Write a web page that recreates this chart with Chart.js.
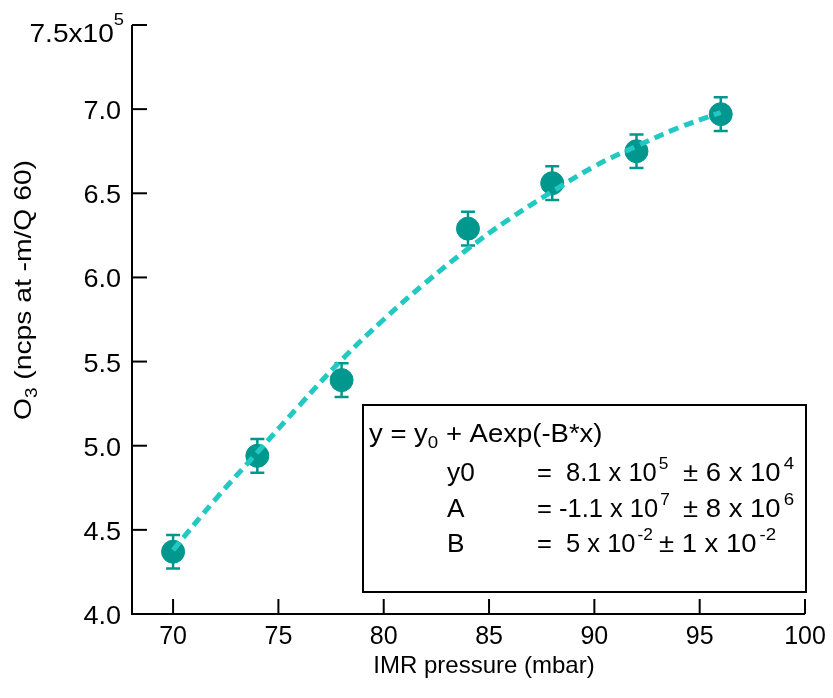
<!DOCTYPE html>
<html>
<head>
<meta charset="utf-8">
<script src="https://cdn.jsdelivr.net/npm/chart.js@4.4.0/dist/chart.umd.min.js"></script>
<style>
  html, body { margin: 0; padding: 0; background: #fff; }
  #wrap { width: 833px; height: 698px; position: relative; }
</style>
</head>
<body>
<div id="wrap"><canvas id="chart"></canvas></div>
<script>
// measured points
const pressure = [70, 74, 78, 84, 88, 92, 96];
const o3Signal = [4.37, 4.94, 5.39, 6.29, 6.56, 6.75, 6.97];
const o3Error = [0.1, 0.1, 0.1, 0.1, 0.1, 0.1, 0.1];

// fit curve
const fitX = [70, 72, 74, 76, 78, 80, 82, 84, 86, 88, 90, 92, 94, 96];
const fitY = [4.38, 4.68, 4.96, 5.24, 5.51, 5.75, 5.97, 6.17, 6.35, 6.51, 6.66, 6.78, 6.89, 6.98];

// axis ticks
const xTicks = [70, 75, 80, 85, 90, 95, 100];
const yTicks = [4.0, 4.5, 5.0, 5.5, 6.0, 6.5, 7.0, 7.5];

const FONT = '"Liberation Sans", Arial, sans-serif';
const markerColor = '#00978f';
const fitColor = '#22c9c3';

// text pieces drawn one after another: [text, fontSize, dy, gapBefore]
function drawRuns(ctx, x, y, parts, stretch) {
    stretch = stretch || 1;
    parts.forEach(function(p) {
        x += p[3] || 0;
        ctx.font = p[1] + 'px ' + FONT;
        ctx.save();
        ctx.translate(x, y + p[2]);
        ctx.scale(stretch, 1);
        ctx.fillText(p[0], 0, 0);
        ctx.restore();
        x += ctx.measureText(p[0]).width * stretch;
    });
    return x;
}

function runsWidth(ctx, parts, stretch) {
    let w = 0;
    parts.forEach(function(p) {
        ctx.font = p[1] + 'px ' + FONT;
        w += ctx.measureText(p[0]).width * (stretch || 1) + (p[3] || 0);
    });
    return w;
}

// draws axes, ticks, labels and fit-box text
const axesPlugin = {
    id: 'axesPlugin',
    afterDraw(chart) {
        const ctx = chart.ctx;
        const xs = chart.scales.x;
        const ys = chart.scales.y;
        const area = chart.chartArea;
        const yTop = ys.getPixelForValue(7.5);
        const xEnd = xs.getPixelForValue(100);

        ctx.save();
        ctx.strokeStyle = '#000';
        ctx.fillStyle = '#000';
        ctx.lineWidth = 2;
        ctx.beginPath();
        ctx.moveTo(area.left, yTop);
        ctx.lineTo(area.left, area.bottom);
        ctx.lineTo(xEnd, area.bottom);
        ctx.stroke();

        // y ticks (inward)
        ctx.textAlign = 'left';
        ctx.textBaseline = 'alphabetic';
        yTicks.forEach(function(v) {
            const py = ys.getPixelForValue(v);
            ctx.beginPath();
            ctx.moveTo(area.left, py);
            ctx.lineTo(area.left + 15, py);
            ctx.stroke();
            let parts;
            if (v === 7.5) {
                parts = [['7.5x10', 26, 0], ['5', 17, -17]];
                const w = runsWidth(ctx, parts, 1.08);
                drawRuns(ctx, area.left - 8 - w, py + 17, parts, 1.08);
            } else {
                parts = [[v.toFixed(1), 26, 0]];
                const w = runsWidth(ctx, parts, 1.04);
                drawRuns(ctx, area.left - 11 - w, py + 10, parts, 1.04);
            }
        });

        // x ticks (inward)
        ctx.textAlign = 'center';
        ctx.textBaseline = 'alphabetic';
        ctx.font = '25px ' + FONT;
        xTicks.forEach(function(v) {
            const px = xs.getPixelForValue(v);
            ctx.beginPath();
            ctx.moveTo(px, area.bottom);
            ctx.lineTo(px, area.bottom - 15);
            ctx.stroke();
            ctx.fillText(String(v), px, area.bottom + 30);
        });

        // axis titles
        ctx.font = '24px ' + FONT;
        ctx.fillText('IMR pressure (mbar)', 484, 673);

        ctx.save();
        ctx.translate(31, 290);
        ctx.rotate(-Math.PI / 2);
        ctx.textAlign = 'left';
        const title = [['O', 24, 0], ['3', 16, 6], [' (ncps at -m/Q 60)', 24, 0]];
        const stretch = 260 / runsWidth(ctx, title, 1);
        drawRuns(ctx, -130, 0, title, stretch);
        ctx.restore();

        // fit box
        ctx.lineWidth = 2;
        ctx.strokeRect(363, 405, 443, 187);
        ctx.textAlign = 'left';

        drawRuns(ctx, 369, 442, [['y = y', 25, 0], ['0', 17, 6], [' + Aexp(-B*x)', 25, 0]], 1.1);

        const rows = [
            ['y0', [['=  8.1 x 10', 25, 0], ['5', 17, -12, 2]], [['\u00b1 6 x 10', 25, 0], ['4', 17, -12, 3]]],
            ['A', [['= -1.1 x 10', 25, 0], ['7', 17, -12, 2]], [['\u00b1 8 x 10', 25, 0], ['6', 17, -12, 3]]],
            ['B', [['=  5 x 10', 25, 0], ['-2', 17, -12, 2]], [['\u00b1 1 x 10', 25, 0], ['-2', 17, -12, 3]]]
        ];
        rows.forEach(function(r, i) {
            const by = 481 + i * 35.5;
            drawRuns(ctx, 447, by, [[r[0], 25, 0]], 1.05);
            const endX = drawRuns(ctx, 537, by, r[1], 1.02);
            drawRuns(ctx, i === 2 ? endX + 6 : 683, by, r[2], 1.1);
        });
        ctx.restore();
    }
};

// error bars with caps
const errorBarPlugin = {
    id: 'errorBars',
    beforeDatasetDraw(chart, args) {
        if (args.index !== 1) return;
        const ctx = chart.ctx;
        const xs = chart.scales.x;
        const ys = chart.scales.y;
        ctx.save();
        ctx.strokeStyle = markerColor;
        ctx.lineWidth = 2.5;
        pressure.forEach(function(p, i) {
            const px = xs.getPixelForValue(p);
            const top = ys.getPixelForValue(o3Signal[i] + o3Error[i]);
            const bot = ys.getPixelForValue(o3Signal[i] - o3Error[i]);
            ctx.beginPath();
            ctx.moveTo(px, top);
            ctx.lineTo(px, bot);
            ctx.moveTo(px - 7, top);
            ctx.lineTo(px + 7, top);
            ctx.moveTo(px - 7, bot);
            ctx.lineTo(px + 7, bot);
            ctx.stroke();
        });
        ctx.restore();
    }
};

new Chart(document.getElementById('chart'), {
    type: 'scatter',
    data: {
        datasets: [{
            label: 'fit',
            data: fitX.map(function(x, i) { return { x: x, y: fitY[i] }; }),
            showLine: true,
            borderColor: fitColor,
            borderWidth: 5,
            borderDash: [10, 6],
            pointRadius: 0,
            tension: 0.4,
            fill: false
        }, {
            label: 'O3',
            data: pressure.map(function(x, i) { return { x: x, y: o3Signal[i] }; }),
            backgroundColor: markerColor,
            borderColor: markerColor,
            pointRadius: 11.5,
            pointHoverRadius: 11.5
        }]
    },
    options: {
        responsive: true,
        maintainAspectRatio: false,
        animation: false,
        layout: {
            padding: { left: 132, top: 25, right: 28, bottom: 84 }
        },
        plugins: {
            legend: { display: false },
            tooltip: { enabled: false }
        },
        scales: {
            x: { type: 'linear', display: false, min: 68.05, max: 100 },
            y: { type: 'linear', display: false, min: 4.0, max: 7.5 }
        }
    },
    plugins: [axesPlugin, errorBarPlugin]
});
</script>
</body>
</html>
